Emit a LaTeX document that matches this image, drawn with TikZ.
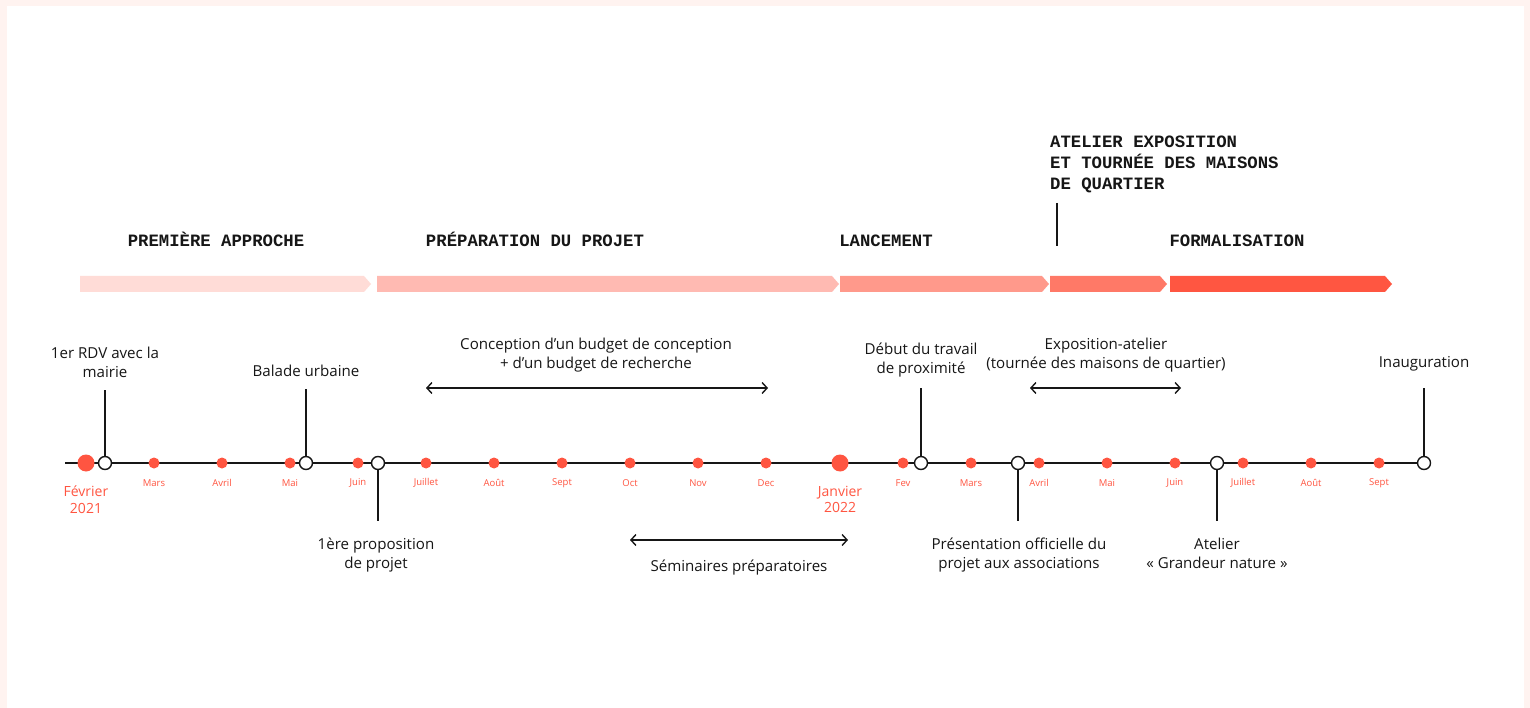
\documentclass[tikz,border=0pt]{standalone}
\usepackage{fontspec}
\setmainfont{Open Sans}
\newfontfamily\phasefont{Liberation Mono}
\usetikzlibrary{arrows.meta}

\definecolor{pagebg}{HTML}{FFF3F0}
\definecolor{accent}{HTML}{FF5541}
\definecolor{ink}{HTML}{161616}
\definecolor{phaseA}{HTML}{FFDCD7}
\definecolor{phaseB}{HTML}{FFBAB2}
\definecolor{phaseC}{HTML}{FF998B}
\definecolor{phaseD}{HTML}{FF7967}
\definecolor{phaseE}{HTML}{FF5641}

\tikzset{
  monthdot/.style={circle, fill=accent, inner sep=0pt, minimum size=11pt},
  yeardot/.style={circle, fill=accent, inner sep=0pt, minimum size=17pt},
  opendot/.style={circle, draw=ink, fill=white, line width=1.4pt, inner sep=0pt, minimum size=13pt},
  monthlabel/.style={text=accent, font=\fontsize{9.5}{11}\selectfont, inner sep=0pt},
  yearlabel/.style={text=accent, font=\fontsize{14}{16.5}\selectfont, align=center, inner sep=0pt},
  eventlabel/.style={text=ink, font=\fontsize{15.1}{19}\selectfont, align=center, inner sep=0pt},
  phaselabel/.style={text=ink, font=\phasefont\bfseries\fontsize{17.3}{21}\selectfont, inner sep=0pt},
  stem/.style={draw=ink, line width=2pt},
  span/.style={draw=ink, line width=1.4pt, {Straight Barb[length=5pt,width=11pt]}-{Straight Barb[length=5pt,width=11pt]}},
}

% chevron-ended phase bar: #1 colour, #2 left x, #3 body end x, #4 tip x
\newcommand{\phasebar}[4]{%
  \fill[#1] (#2,276) -- (#3,276) -- (#4,284) -- (#3,292) -- (#2,292) -- cycle;}

\begin{document}
\begin{tikzpicture}[x=1pt, y=-1pt]
  % page frame
  \fill[pagebg] (0,0) rectangle (1530,708);
  \fill[white] (7,6) rectangle (1524,708);
  \useasboundingbox (0,0) rectangle (1530,708);

  % phase bars
  \phasebar{phaseA}{80}{364}{371}
  \phasebar{phaseB}{377}{832}{839}
  \phasebar{phaseC}{840}{1042}{1049}
  \phasebar{phaseD}{1050}{1160}{1167}
  \phasebar{phaseE}{1170}{1385}{1392}

  % phase titles, all on one baseline
  \node[phaselabel, anchor=base] (p1) at (216,246.5) {PREMIÈRE APPROCHE};
  \node[phaselabel, anchor=base] (p2) at (535,246.5) {PRÉPARATION DU PROJET};
  \node[phaselabel, anchor=base] (p3) at (886,246.5) {LANCEMENT};
  \node[phaselabel, anchor=base] (p4) at (1237,246.5) {FORMALISATION};
  \node[phaselabel, anchor=north west, align=left] (p5) at (1050,135.5)
    {ATELIER EXPOSITION\\ET TOURNÉE DES MAISONS\\DE QUARTIER};
  \coordinate (p5top) at (1057,203);
  \coordinate (p5bot) at (1057,246);
  \draw[stem] (p5top) -- (p5bot);

  % timeline axis
  \coordinate (axisstart) at (65,463);
  \node[opendot] (inaug) at (1424,463) {};
  \draw[ink, line width=1.4pt] (axisstart) -- (inaug.west);

  % month markers
  \node[yeardot] (m1) at (86,463) {};
  \foreach \x/\n/\lab in {154/m2/Mars, 222/m3/Avril, 290/m4/Mai, 358/m5/Juin,
      426/m6/Juillet, 494/m7/Août, 562/m8/Sept, 630/m9/Oct, 698/m10/Nov, 766/m11/Dec,
      903/m13/Fev, 971/m14/Mars, 1039/m15/Avril, 1107/m16/Mai, 1175/m17/Juin,
      1243/m18/Juillet, 1311/m19/Août, 1379/m20/Sept}{
    \node[monthdot] (\n) at (\x,463) {};
    \node[monthlabel] (\n-l) at (\x,483) {\lab};
  }
  \node[yeardot] (m12) at (840,463) {};
  \node[yearlabel] (m1-l) at (86,499.5) {Février\\2021};
  \node[yearlabel] (m12-l) at (840,499.5) {Janvier\\2022};

  % events
  \node[opendot] (rdv) at (105,463) {};
  \node[opendot] (balade) at (306,463) {};
  \node[opendot] (propo) at (378,463) {};
  \node[opendot] (debut) at (921,463) {};
  \node[opendot] (presen) at (1018,463) {};
  \node[opendot] (grandeur) at (1217,463) {};

  \coordinate (rdv-t) at (105,390);
  \coordinate (balade-t) at (306,389);
  \coordinate (propo-b) at (378,521);
  \coordinate (debut-t) at (921,388);
  \coordinate (presen-b) at (1018,521);
  \coordinate (grandeur-b) at (1217,521);
  \coordinate (inaug-t) at (1424,388);

  \draw[stem] (rdv.north) -- (rdv-t);
  \draw[stem] (balade.north) -- (balade-t);
  \draw[stem] (propo.south) -- (propo-b);
  \draw[stem] (debut.north) -- (debut-t);
  \draw[stem] (presen.south) -- (presen-b);
  \draw[stem] (grandeur.south) -- (grandeur-b);
  \draw[stem] (inaug.north) -- (inaug-t);

  \node[eventlabel] (rdv-l) at (105,362.5) {1er RDV avec la\\mairie};
  \node[eventlabel] (balade-l) at (306,371) {Balade urbaine};
  \node[eventlabel] (propo-l) at (376,555) {1ère proposition\\de projet};
  \node[eventlabel] (debut-l) at (921,360.5) {Début du travail\\de proximité};
  \node[eventlabel] (presen-l) at (1019,555) {Présentation officielle du\\projet aux associations};
  \node[eventlabel] (grandeur-l) at (1217,553) {Atelier\\«~Grandeur nature~»};
  \node[eventlabel] (inaug-l) at (1424,364) {Inauguration};

  % periods
  \coordinate (conc-a) at (426,388);
  \coordinate (conc-b) at (768,388);
  \draw[span] (conc-a) -- (conc-b);
  \node[eventlabel] (conc-l) at (596,355.5) {Conception d’un budget de conception\\+ d’un budget de recherche};

  \coordinate (semi-a) at (630,540);
  \coordinate (semi-b) at (848,540);
  \draw[span] (semi-a) -- (semi-b);
  \node[eventlabel] (semi-l) at (739,567.5) {Séminaires préparatoires};

  \coordinate (expo-a) at (1030,388);
  \coordinate (expo-b) at (1181,388);
  \draw[span] (expo-a) -- (expo-b);
  \node[eventlabel] (expo-l) at (1106,355.5) {Exposition-atelier\\(tournée des maisons de quartier)};
\end{tikzpicture}
\end{document}
